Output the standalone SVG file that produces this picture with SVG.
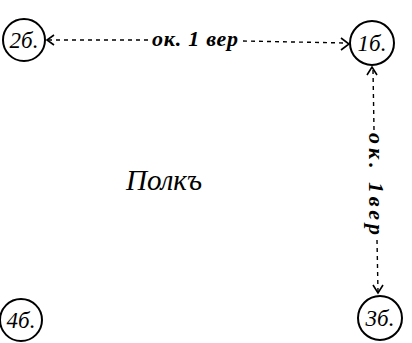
<svg xmlns="http://www.w3.org/2000/svg" width="412" height="343" viewBox="0 0 412 343">
<style>
.node circle{fill:#fff;stroke:#000;stroke-width:2}
.node text,.lbl{font-family:"Liberation Serif","DejaVu Serif",serif;font-style:italic;fill:#000;text-anchor:middle}
.node text{font-size:23px}
.lbl{font-size:22px;font-weight:bold}
.title{font-size:29px;font-weight:normal}
.dash{fill:none;stroke:#000;stroke-width:1.4;stroke-dasharray:4 4}
.head{fill:none;stroke:#000;stroke-width:1.6}
</style>
<rect width="412" height="343" fill="#fff"/>
<g id="connectors">
<line class="dash" x1="48" y1="40" x2="150" y2="40"/>
<line class="dash" x1="243" y1="41" x2="346" y2="43"/>
<path class="head" d="M54,35 L47,40 L54,45"/>
<path class="head" d="M341,38 L349,44 L341,50"/>
<text class="lbl" x="195" y="46" textLength="86" lengthAdjust="spacing">ок. 1 вер</text>
<line class="dash" x1="373" y1="70" x2="374" y2="130"/>
<line class="dash" x1="377" y1="240" x2="378" y2="292"/>
<path class="head" d="M367,75 L372,67 L377,75"/>
<path class="head" d="M373,285 L378,293 L383,285"/>
<text class="lbl" transform="translate(369,184) rotate(90)" textLength="102" lengthAdjust="spacing">ок. 1вер</text>
</g>
<g id="n2" class="node"><circle cx="24" cy="40" r="21"/><text x="24" y="48">2б.</text></g>
<g id="n1" class="node"><circle cx="372" cy="43" r="22"/><text x="372" y="51">1б.</text></g>
<g id="n3" class="node"><circle cx="380" cy="318" r="22"/><text x="380" y="326">3б.</text></g>
<g id="n4" class="node"><circle cx="21" cy="320" r="21"/><text x="21" y="328">4б.</text></g>
<g id="label"><text class="lbl title" x="164" y="190">Полкъ</text></g>
</svg>
